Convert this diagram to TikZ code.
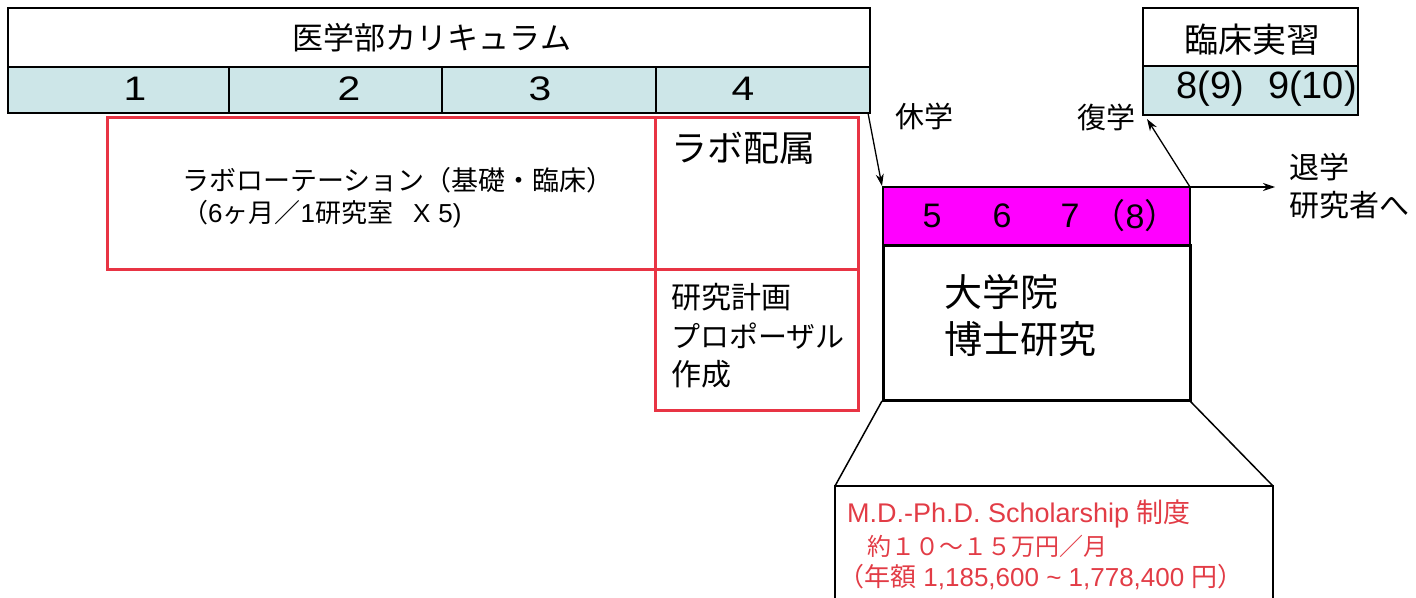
\documentclass[tikz,border=0pt]{standalone}
\usepackage{fontspec}
\setmainfont{Liberation Sans}
\newfontfamily\jp{Noto Sans CJK JP}
\usetikzlibrary{arrows.meta}
\definecolor{lblue}{RGB}{205,230,232}
\definecolor{boxred}{RGB}{232,52,68}
\definecolor{txtred}{RGB}{226,60,70}
\definecolor{mag}{RGB}{255,0,255}
\newcommand{\fs}[1]{\fontsize{#1}{#1}\selectfont}
\tikzset{
  blk/.style={draw=black, line width=2pt},
  redbox/.style={draw=boxred, line width=3pt},
  lbl/.style={inner sep=0pt, text=black},
  arr/.style={-{Stealth[length=12pt,width=8pt]}, line width=1.3pt},
}
\begin{document}
\begin{tikzpicture}[x=1pt,y=-1pt]
\useasboundingbox (0,0) rectangle (1416,597);
% curriculum header
\draw[blk, fill=white] (8,8) rectangle (870,67);
\draw[blk, fill=lblue] (8,67) rectangle (870,113);
\draw[blk] (229,67) -- (229,113);
\draw[blk] (442,67) -- (442,113);
\draw[blk] (656,67) -- (656,113);
\node[lbl] (hdr) at (432,38) {\jp\fs{31}医学部カリキュラム};
\node[lbl] (y1) at (135,89) {\fs{34}\scalebox{1.2}[1]{1}};
\node[lbl] (y2) at (349,89) {\fs{34}\scalebox{1.2}[1]{2}};
\node[lbl] (y3) at (540,89) {\fs{34}\scalebox{1.2}[1]{3}};
\node[lbl] (y4) at (743,89) {\fs{34}\scalebox{1.2}[1]{4}};
% clinical
\draw[blk, fill=white] (1143,8) rectangle (1358,66);
\draw[blk, fill=lblue] (1143,66) rectangle (1358,115);
\node[lbl] (rinsho) at (1252,40) {\jp\fs{34}臨床実習};
\node[lbl, anchor=east] (yrs2) at (1357,89) {\fs{38}8(9)\hspace{24pt}9(10)};
% red boxes
\draw[redbox] (107,117) rectangle (655,269);
\draw[redbox] (655,117) rectangle (858,269);
\draw[redbox] (655,269) rectangle (858,410);
\node[lbl, anchor=west] (rot1) at (182,180) {\jp\fs{27}ラボローテーション（基礎・臨床）};
\node[lbl, anchor=west] (rot2) at (182,214) {\jp\fs{26}（{\fontspec{Liberation Sans}6}ヶ月／{\fontspec{Liberation Sans}1}研究室\hspace{20pt}{\fontspec{Liberation Sans}X\hspace{8pt}5)}};
\node[lbl, anchor=west] (labo) at (671,148) {\jp\fs{36}ラボ配属};
\node[lbl, anchor=west] (plan1) at (671,297) {\jp\fs{30}研究計画};
\node[lbl, anchor=west] (plan2) at (671,336) {\jp\fs{29}プロポーザル};
\node[lbl, anchor=west] (plan3) at (671,374) {\jp\fs{30}作成};
% graduate
\draw[blk, fill=mag] (883,187) rectangle (1190,245);
\draw[draw=black, line width=3pt] (883,245) rectangle (1190,400);
\coordinate (magTL) at (882,186);
\coordinate (magTR) at (1190,187);
\node[lbl] (g5) at (932,216) {\fs{34}5};
\node[lbl] (g6) at (1002,216) {\fs{34}6};
\node[lbl] (g7) at (1070,216) {\fs{34}7};
\node[lbl] (g8) at (1140,216) {\fs{34}{\jp\hspace{-10pt}（}8{\jp）\hspace{-10pt}}};
\node[lbl, anchor=west] (g1) at (944,292) {\jp\fs{38}大学院};
\node[lbl, anchor=west] (g2) at (944,339) {\jp\fs{38}博士研究};
% arrows
\coordinate (curTR) at (868,113);
\draw[arr] (curTR) -- (magTL);
\node[lbl] (kyu) at (924,116) {\jp\fs{29}休学};
\coordinate (ret) at (1147,119);
\draw[arr] (magTR) -- (ret);
\node[lbl] (fuku) at (1106,117) {\jp\fs{29}復学};
\coordinate (quit) at (1275,187);
\draw[arr] (magTR) -- (quit);
\node[lbl, anchor=west] (tai1) at (1289,167) {\jp\fs{30}退学};
\node[lbl, anchor=west] (tai2) at (1289,205) {\jp\fs{30}研究者へ};
% scholarship
\draw[line width=2pt] (835,610) -- (835,486) -- (1273,486) -- (1273,610);
\draw[line width=1.5pt] (882,401) -- (835,486);
\draw[line width=1.5pt] (1190,401) -- (1273,486);
\node[lbl, anchor=west, text=txtred] (s1) at (847,514) {\fs{27}M.D.-Ph.D. Scholarship {\jp 制度}};
\node[lbl, anchor=west, text=txtred] (s2) at (867,546) {\jp\fs{24}約１０〜１５万円／月};
\node[lbl, anchor=west, text=txtred] (s3) at (838,577) {\fs{26}{\jp（年額} 1,185,600 \symbol{126} 1,778,400 {\jp 円）}};
\end{tikzpicture}
\end{document}
